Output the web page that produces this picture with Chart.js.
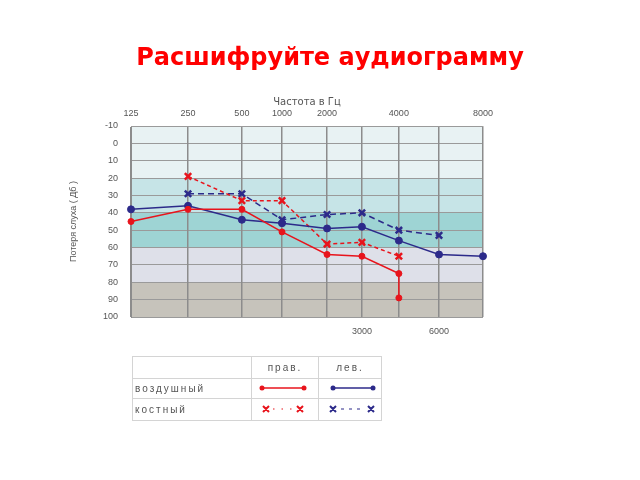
<!DOCTYPE html>
<html>
<head>
<meta charset="utf-8">
<script src="https://cdn.jsdelivr.net/npm/chart.js@4"></script>
<style>
  body { margin: 0; background: #fff; }
  #wrap { position: relative; width: 640px; height: 480px; }
  #legend { position: absolute; left: 132px; top: 356px; border-collapse: collapse;
    font: 10px "Liberation Sans", sans-serif; letter-spacing: 2px; color: #555; }
  #legend td { border: 1px solid #d4d4d4; padding: 0 2px; }
</style>
</head>
<body>
<div id="wrap">
  <canvas id="myChart" width="640" height="480"></canvas>
  <table id="legend">
    <tr style="height:22px"><td style="width:114px"></td><td style="width:62px;text-align:center">прав.</td><td style="width:58px;text-align:center">лев.</td></tr>
    <tr style="height:20px"><td>воздушный</td>
      <td><svg width="62" height="12"><line x1="8" y1="6" x2="50" y2="6" stroke="#e8141c" stroke-width="1.5"/><circle cx="8" cy="6" r="2.5" fill="#e8141c"/><circle cx="50" cy="6" r="2.5" fill="#e8141c"/></svg></td>
      <td><svg width="58" height="12"><line x1="12" y1="6" x2="52" y2="6" stroke="#2c2a8a" stroke-width="1.5"/><circle cx="12" cy="6" r="2.5" fill="#2c2a8a"/><circle cx="52" cy="6" r="2.5" fill="#2c2a8a"/></svg></td></tr>
    <tr style="height:22px"><td>костный</td>
      <td><svg width="62" height="12"><path d="M9 3l6 6M15 3l-6 6M43 3l6 6M49 3l-6 6" stroke="#e8141c" stroke-width="2"/><line x1="19" y1="6" x2="40" y2="6" stroke="#e8141c" stroke-width="1.2" stroke-dasharray="1.5 7"/></svg></td>
      <td><svg width="58" height="12"><path d="M9 3l6 6M15 3l-6 6M47 3l6 6M53 3l-6 6" stroke="#2c2a8a" stroke-width="2"/><line x1="20" y1="6" x2="43" y2="6" stroke="#2c2a8a" stroke-width="1.2" stroke-dasharray="3 5"/></svg></td></tr>
  </table>
</div>
<script>
// audiogram values (dB HL)
var freqs = [125, 250, 500, 1000, 2000, 3000, 4000, 6000, 8000];
var topLabels = ["125", "250", "500", "1000", "2000", "", "4000", "", "8000"];
var bottomFreqs = [3000, 6000];
var dbTicks = [-10, 0, 10, 20, 30, 40, 50, 60, 70, 80, 90, 100];

var rightAirFreq = [125, 250, 500, 1000, 2000, 3000, 4000, 4000];
var rightAir = [45, 38, 38, 51, 64, 65, 75, 89];
var leftAirFreq = [125, 250, 500, 1000, 2000, 3000, 4000, 6000, 8000];
var leftAir = [38, 36, 44, 46, 49, 48, 56, 64, 65];
var rightBoneFreq = [250, 500, 1000, 2000, 3000, 4000];
var rightBone = [19, 33, 33, 58, 57, 65];
var leftBoneFreq = [250, 500, 1000, 2000, 3000, 4000, 6000];
var leftBone = [29, 29, 44, 41, 40, 50, 53];

var bandEdges = [-10, 20, 40, 60, 80, 100];
var bandColors = ["#e8f2f3", "#c6e4e7", "#9ed4d4", "#dee0e9", "#c6c3bb"];

// where each frequency sits across the form (fraction of width)
var stopFrac = [0, 0.162, 0.315, 0.429, 0.557, 0.656, 0.761, 0.875, 1];

class AudioScale extends Chart.LinearScale {
  static id = "audio";
  static defaults = Chart.LinearScale.defaults;
  getPixelForValue(v) {
    var i = 0;
    while (i < freqs.length - 2 && v > freqs[i + 1]) i++;
    var t = (v - freqs[i]) / (freqs[i + 1] - freqs[i]);
    return this.getPixelForDecimal(stopFrac[i] + t * (stopFrac[i + 1] - stopFrac[i]));
  }
  getValueForPixel(p) {
    var d = this.getDecimalForPixel(p);
    var i = 0;
    while (i < stopFrac.length - 2 && d > stopFrac[i + 1]) i++;
    var t = (d - stopFrac[i]) / (stopFrac[i + 1] - stopFrac[i]);
    return freqs[i] + t * (freqs[i + 1] - freqs[i]);
  }
}
Chart.register(AudioScale);

function pts(xs, ys) {
  return xs.map(function (x, i) { return { x: x, y: ys[i] }; });
}

var bands = {
  id: "bands",
  beforeDraw: function (chart) {
    var c = chart.ctx, a = chart.chartArea, y = chart.scales.y;
    c.save();
    for (var i = 0; i < bandColors.length; i++) {
      var y1 = y.getPixelForValue(bandEdges[i]);
      var y2 = y.getPixelForValue(bandEdges[i + 1]);
      c.fillStyle = bandColors[i];
      c.fillRect(a.left, y1, a.right - a.left, y2 - y1);
    }
    c.restore();
  }
};

var RED = "#e8141c", BLUE = "#2c2a8a";
var tickFont = { family: "Liberation Sans", size: 9 };

var ctx = document.getElementById("myChart").getContext("2d");
var myChart = new Chart(ctx, {
  type: "line",
  data: {
    datasets: [{
      label: "прав. воздушный",
      data: pts(rightAirFreq, rightAir),
      borderColor: RED, backgroundColor: RED,
      borderWidth: 1.5, pointRadius: 3, pointBorderWidth: 1, pointStyle: "circle",
      clip: false, xAxisID: "x", yAxisID: "y"
    }, {
      label: "лев. воздушный",
      data: pts(leftAirFreq, leftAir),
      borderColor: BLUE, backgroundColor: BLUE,
      borderWidth: 1.5, pointRadius: 3.5, pointBorderWidth: 1, pointStyle: "circle",
      clip: false, xAxisID: "x", yAxisID: "y"
    }, {
      label: "прав. костный",
      data: pts(rightBoneFreq, rightBone),
      borderColor: RED, backgroundColor: RED,
      borderWidth: 1.5, borderDash: [4, 3],
      pointRadius: 4.5, pointStyle: "crossRot", pointBorderWidth: 2.5,
      clip: false, xAxisID: "x", yAxisID: "y"
    }, {
      label: "лев. костный",
      data: pts(leftBoneFreq, leftBone),
      borderColor: BLUE, backgroundColor: BLUE,
      borderWidth: 1.5, borderDash: [6, 4],
      pointRadius: 4.5, pointStyle: "crossRot", pointBorderWidth: 2.5,
      clip: false, xAxisID: "x", yAxisID: "y"
    }]
  },
  options: {
    responsive: false,
    animation: false,
    layout: { padding: { left: 20, right: 0, top: 0, bottom: 0 } },
    plugins: {
      legend: { display: false },
      tooltip: { enabled: false },
      title: {
        display: true,
        text: "Расшифруйте аудиограмму",
        color: "#ff0000",
        font: { family: "DejaVu Sans", size: 24, weight: "bold", lineHeight: 1.2 },
        padding: { top: 44, bottom: 0 }
      }
    },
    scales: {
      y: {
        type: "linear", position: "left", reverse: true,
        min: -10, max: 100,
        afterBuildTicks: function (s) { s.ticks = dbTicks.map(function (v) { return { value: v }; }); },
        afterFit: function (s) { s.width = 111; },
        grid: { color: "#9a9a9a", lineWidth: 1, drawTicks: false },
        border: { color: "#8c8c8c" },
        ticks: { font: tickFont, color: "#555", padding: 13 },
        title: {
          display: true, text: "Потеря слуха ( Дб )", color: "#555",
          font: { family: "Liberation Sans", size: 9 }, padding: { top: 48 }
        }
      },
      yR: {
        type: "linear", position: "right", display: true,
        afterFit: function (s) { s.width = 157; },
        grid: { display: false }, border: { display: false },
        ticks: { display: false }
      },
      x: {
        type: "audio", position: "top", min: 125, max: 8000,
        afterBuildTicks: function (s) { s.ticks = freqs.map(function (v) { return { value: v }; }); },
        afterFit: function (s) { s.height = 53.2; },
        grid: { color: "#8c8c8c", lineWidth: 1.5, drawTicks: false },
        border: { color: "#9a9a9a" },
        ticks: {
          font: tickFont, color: "#555", padding: 7, autoSkip: false, maxRotation: 0,
          callback: function (v, i) { return topLabels[i]; }
        },
        title: {
          display: true, text: "Частота в Гц", color: "#555",
          font: { family: "DejaVu Sans", size: 10 }, padding: { top: 24, bottom: 0 }
        }
      },
      x2: {
        type: "audio", position: "bottom", min: 125, max: 8000,
        afterBuildTicks: function (s) { s.ticks = bottomFreqs.map(function (v) { return { value: v }; }); },
        afterFit: function (s) { s.height = 163; },
        grid: { display: false }, border: { display: false },
        ticks: {
          font: tickFont, color: "#555", padding: 1, autoSkip: false, maxRotation: 0,
          callback: function (v) { return String(v); }
        }
      }
    }
  },
  plugins: [bands]
});
</script>
</body>
</html>
